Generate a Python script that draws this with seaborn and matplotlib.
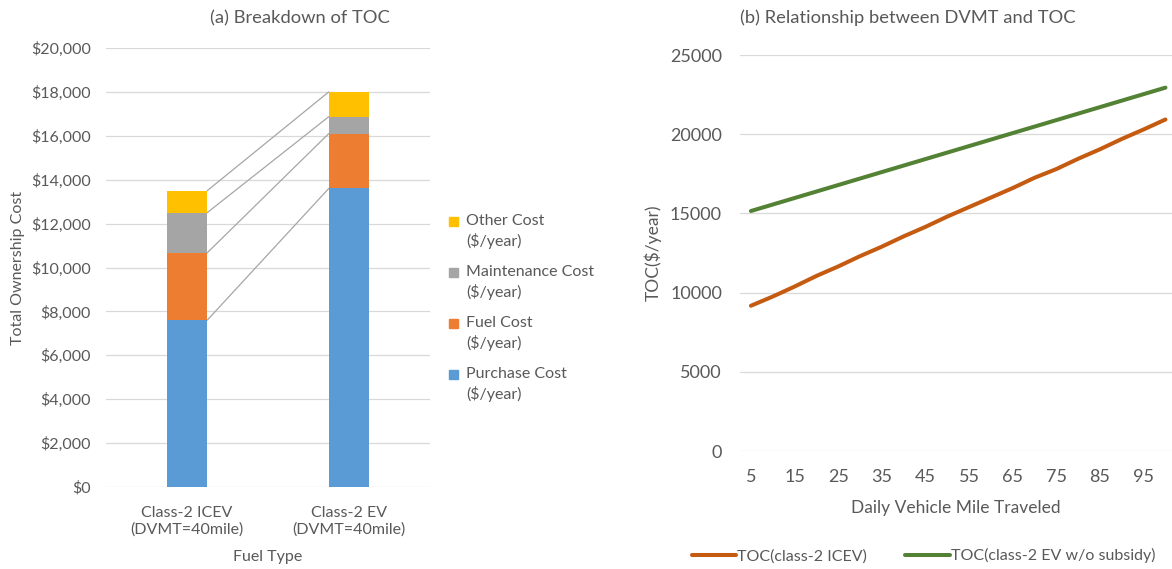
import matplotlib
matplotlib.use("Agg")
import matplotlib.pyplot as plt
from matplotlib.patches import Rectangle
import numpy as np
import seaborn as sns

# (a) breakdown of TOC, $/year
vehicles = ["Class-2 ICEV\n(DVMT=40mile)", "Class-2 EV\n(DVMT=40mile)"]
purchase_cost = [7600, 13600]
fuel_cost = [3070, 2500]
maintenance_cost = [1830, 770]
other_cost = [1000, 1130]

# (b) TOC vs daily vehicle miles traveled
dvmt = [5, 10, 15, 20, 25, 30, 35, 40, 45, 50, 55, 60, 65, 70, 75, 80, 85, 90, 95, 100]
toc_icev = [9170, 9750, 10380, 11050, 11650, 12300, 12900, 13550, 14150, 14800,
            15400, 16000, 16600, 17250, 17800, 18450, 19050, 19700, 20300, 20930]
toc_ev = [15150, 15560, 15970, 16380, 16790, 17200, 17610, 18020, 18430, 18840,
          19250, 19660, 20070, 20480, 20890, 21300, 21710, 22120, 22530, 22940]

sns.set_theme(style="white")
plt.rcParams['font.family'] = ['Lato', 'DejaVu Sans']
txt = "#595959"
grid_c = "#D9D9D9"
W, H = 1172, 569

fig = plt.figure(figsize=(11.72, 5.69), dpi=100)

# ---------- left: stacked bars ----------
ax1 = fig.add_axes([106 / W, 82 / H, 324 / W, 439 / H])
segments = [
    ("Purchase Cost", purchase_cost, "#5B9BD5"),
    ("Fuel Cost", fuel_cost, "#ED7D31"),
    ("Maintenance Cost", maintenance_cost, "#A5A5A5"),
    ("Other Cost", other_cost, "#FFC000"),
]
bw = 0.25
xpos = np.arange(len(vehicles))
bottom = np.zeros(len(vehicles))
tops = []
for name, vals, col in segments:
    ax1.bar(xpos, vals, width=bw, bottom=bottom, color=col, linewidth=0, zorder=3)
    bottom = bottom + np.array(vals)
    tops.append(bottom.copy())

# series lines between the bars
for t in tops:
    ax1.plot([xpos[0] + bw / 2, xpos[1] - bw / 2], [t[0], t[1]],
             color="#A6A6A6", lw=0.9, zorder=2)

ax1.set_xlim(-0.5, 1.5)
ax1.set_ylim(0, 20000)
ax1.set_yticks(np.arange(0, 20001, 2000))
ax1.set_yticklabels([f"${v:,.0f}" for v in np.arange(0, 20001, 2000)])
ax1.set_xticks(xpos)
ax1.set_xticklabels(vehicles, linespacing=1.15)
ax1.yaxis.grid(True, color=grid_c, lw=0.9, zorder=0)
for s in ax1.spines.values():
    s.set_visible(False)
ax1.tick_params(axis="y", length=0, pad=11, labelsize=11.5, labelcolor=txt)
ax1.tick_params(axis="x", length=0, pad=14, labelsize=11.5, labelcolor=txt)
ax1.set_xlabel("Fuel Type", fontsize=11.5, color=txt, labelpad=10)
ax1.set_ylabel("Total Ownership Cost", fontsize=11.5, color=txt)
ax1.yaxis.set_label_coords(-0.25, 0.5)

# legend drawn by hand so the swatch sits on the first line of each label
for i, (name, vals, col) in enumerate(segments[::-1]):
    y0 = 221 + 51 * i
    fig.patches.append(Rectangle(((449) / W, 1 - (y0 + 4.5) / H), 9 / W, 9 / H,
                                 transform=fig.transFigure, color=col))
    fig.text(466 / W, 1 - y0 / H, name, ha="left", va="center", fontsize=11.5, color=txt)
    fig.text(466 / W, 1 - (y0 + 20) / H, "($/year)", ha="left", va="center",
             fontsize=11.5, color=txt)

fig.text(300 / W, 1 - 18 / H, "(a) Breakdown of TOC", ha="center", va="center",
         fontsize=13.2, color=txt)

# ---------- right: lines ----------
ax2 = fig.add_axes([740 / W, 118 / H, 432 / W, 396 / H])
idx = np.arange(len(dvmt))
sns.lineplot(x=idx, y=toc_icev, ax=ax2, color="#C55A11", lw=2.9,
             label="TOC(class-2 ICEV)", zorder=3)
sns.lineplot(x=idx, y=toc_ev, ax=ax2, color="#548235", lw=2.9,
             label="TOC(class-2 EV w/o subsidy)", zorder=3)
ax2.set_xlim(-0.5, 19.3)
ax2.set_ylim(0, 25000)
ax2.set_yticks(np.arange(0, 25001, 5000))
ax2.set_xticks(idx[::2])
ax2.set_xticklabels([str(d) for d in dvmt[::2]])
ax2.yaxis.grid(True, color=grid_c, lw=0.9, zorder=0)
for s in ax2.spines.values():
    s.set_visible(False)
ax2.tick_params(axis="y", length=0, pad=13, labelsize=13, labelcolor=txt)
ax2.tick_params(axis="x", length=0, pad=13, labelsize=13, labelcolor=txt)
ax2.set_xlabel("Daily Vehicle Mile Traveled", fontsize=12.5, color=txt, labelpad=11)
ax2.set_ylabel("TOC($/year)", fontsize=12.5, color=txt)
ax2.yaxis.set_label_coords(-0.18, 0.5)
ax2.legend(loc="center", bbox_to_anchor=(0.425, -0.265), ncol=2, frameon=False,
           fontsize=11.5, labelcolor=txt, handlelength=2.8, handletextpad=0.05,
           columnspacing=2.4)

fig.text(908 / W, 1 - 18 / H, "(b) Relationship between DVMT and TOC",
         ha="center", va="center", fontsize=13.2, color=txt)

fig.savefig("out.png", dpi=100, facecolor="white")
